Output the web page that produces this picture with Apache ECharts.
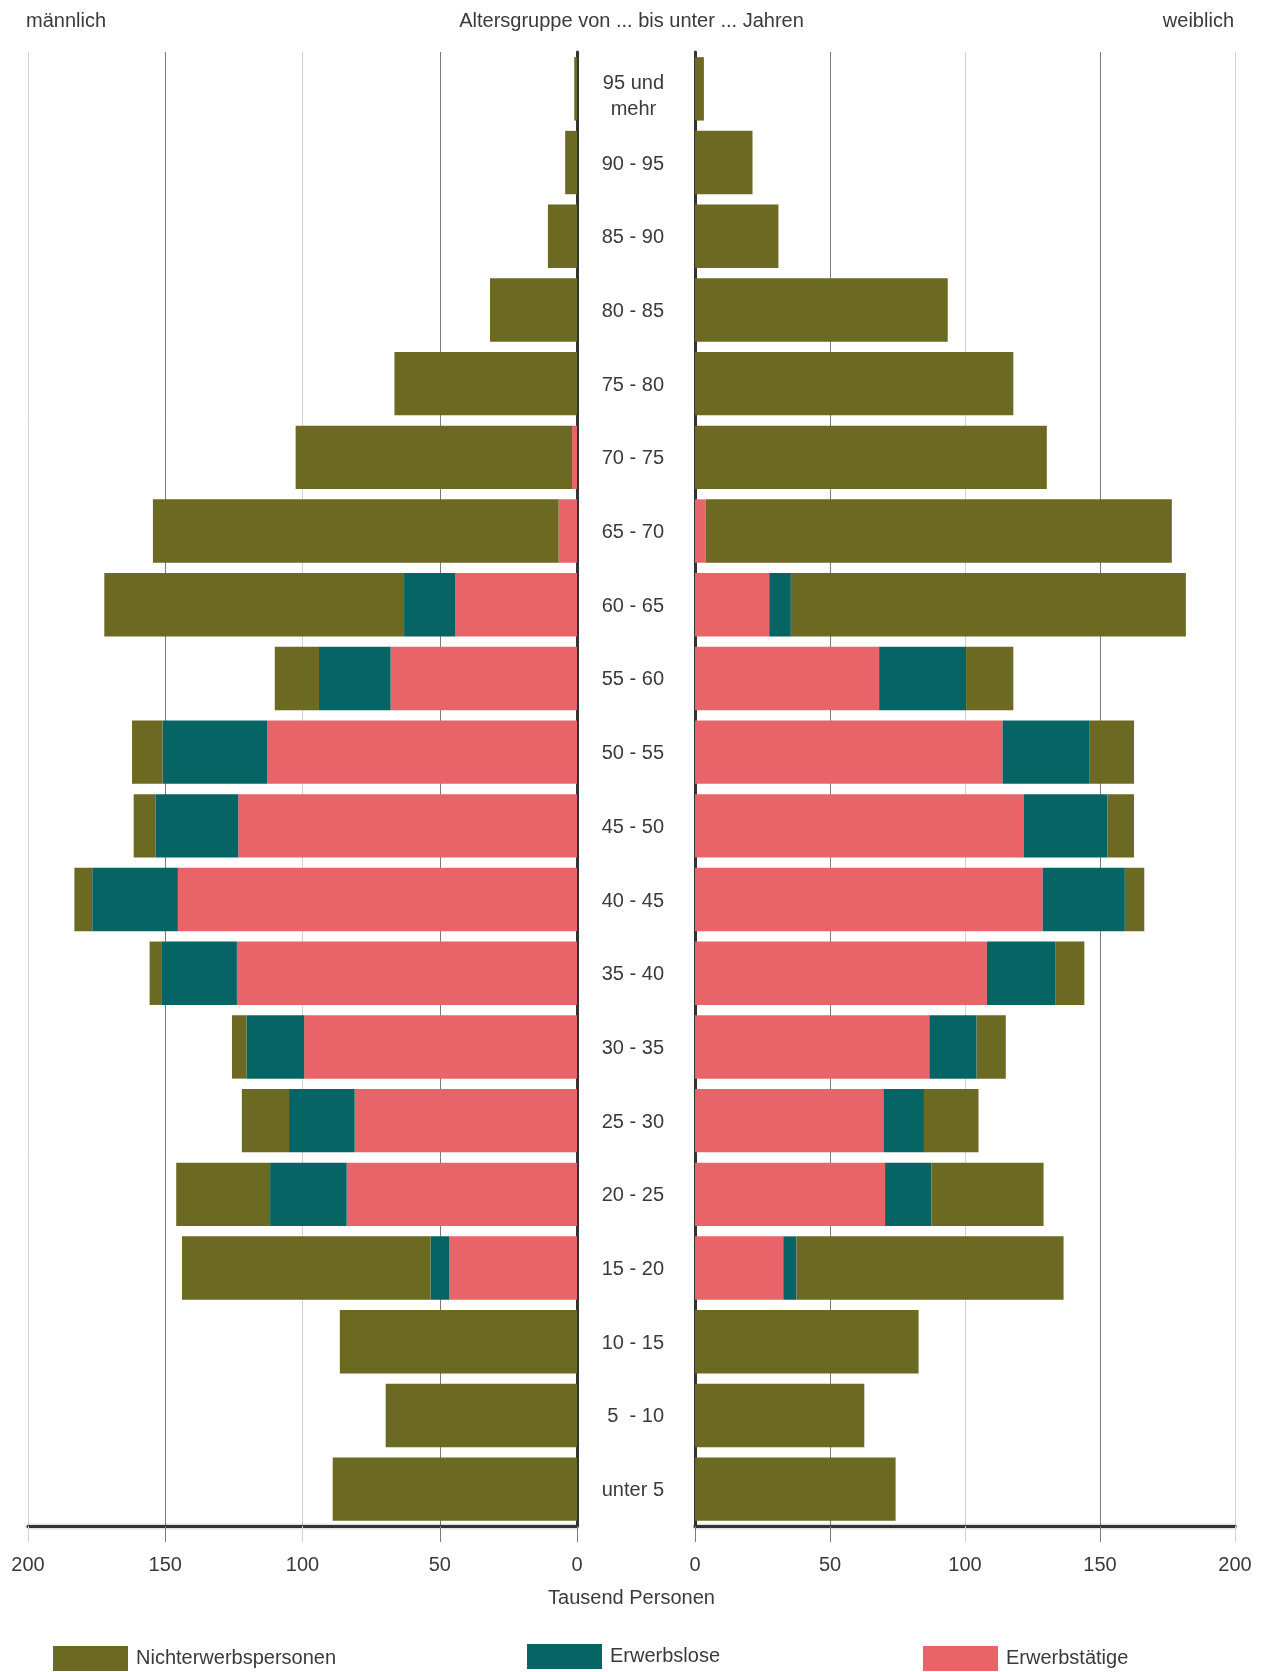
<!DOCTYPE html>
<html>
<head>
<meta charset="utf-8">
<title>Bevölkerung nach Altersgruppen und Erwerbsbeteiligung</title>
<script src="https://cdn.jsdelivr.net/npm/echarts@6/dist/echarts.min.js"></script>
<style>
  html, body { margin: 0; padding: 0; background: #fff; }
  #chart { width: 1263px; height: 1672px; }
</style>
</head>
<body>
<div id="chart"></div>
<script>
// Altersgruppen, von oben (älteste) nach unten (jüngste)
const ageGroups = [
  '95 und\nmehr', '90 - 95', '85 - 90', '80 - 85', '75 - 80', '70 - 75', '65 - 70',
  '60 - 65', '55 - 60', '50 - 55', '45 - 50', '40 - 45', '35 - 40', '30 - 35',
  '25 - 30', '20 - 25', '15 - 20', '10 - 15', '5  - 10', 'unter 5'
];

// Männlich, Tausend Personen
const maleEmployed   = [0, 0, 0, 0, 0, 1.8, 6.7, 44.3, 67.9, 112.8, 123.4, 145.4, 123.9, 99.4, 81.0, 83.9, 46.6, 0, 0, 0];
const maleUnemployed = [0, 0, 0, 0, 0, 0, 0, 18.7, 26.1, 38.2, 30.2, 31.2, 27.3, 21.0, 23.9, 27.9, 6.8, 0, 0, 0];
const maleInactive   = [1.0, 4.3, 10.6, 31.7, 66.5, 100.7, 147.8, 109.2, 16.1, 11.1, 7.9, 6.5, 4.5, 5.3, 17.2, 34.2, 90.5, 86.4, 69.7, 89.0];

// Weiblich, Tausend Personen
const femaleEmployed   = [0, 0, 0, 0, 0, 0, 4.0, 27.5, 68.2, 113.9, 121.7, 128.8, 108.1, 86.8, 69.8, 70.4, 32.7, 0, 0, 0];
const femaleUnemployed = [0, 0, 0, 0, 0, 0, 0, 8.0, 32.2, 32.3, 31.1, 30.4, 25.3, 17.5, 15.0, 17.2, 4.9, 0, 0, 0];
const femaleInactive   = [3.3, 21.3, 30.9, 93.6, 117.9, 130.3, 172.6, 146.3, 17.5, 16.4, 9.8, 7.2, 10.8, 10.8, 20.2, 41.5, 98.9, 82.8, 62.7, 74.3];

// Achsenskala (Tausend Personen); dunkle und helle Hilfslinien wechseln sich ab
const axisTicks = [0, 50, 100, 150, 200];
const darkTicks = [0, 50, 150];
const lightTicks = [100, 200];

const C_INACTIVE = '#6b6922';
const C_UNEMPLOYED = '#066464';
const C_EMPLOYED = '#e86469';
const TEXT = '#3a3a3a';
const FONT = '"Liberation Sans", Arial, sans-serif';
const FS = 20;
const GRID_DARK = '#7a7a7a';
const GRID_LIGHT = '#d2d2d2';

const chart = echarts.init(document.getElementById('chart'), null, { renderer: 'canvas' });

function valueAxis(gridIndex, inverse, primary, tickValues, lineColor) {
  return {
    type: 'value',
    gridIndex: gridIndex,
    position: 'bottom',
    inverse: inverse,
    min: axisTicks[0],
    max: axisTicks[axisTicks.length - 1],
    interval: 50,
    axisLine: primary ? {
      show: true,
      lineStyle: { color: '#333', width: 3, shadowColor: 'rgba(0,0,0,0.35)', shadowBlur: 3 }
    } : { show: false },
    axisTick: {
      show: true, inside: false, length: 16,
      customValues: tickValues,
      lineStyle: { color: lineColor, width: 1 }
    },
    axisLabel: primary ? {
      show: true, margin: 29, color: TEXT, fontSize: FS, fontFamily: FONT,
      customValues: axisTicks
    } : { show: false },
    splitLine: { show: true, lineStyle: { color: lineColor, width: 1 } }
  };
}

function bars(name, data, xi, yi, stack, color) {
  return {
    name: name,
    type: 'bar',
    stack: stack,
    xAxisIndex: xi,
    yAxisIndex: yi,
    barWidth: '86%',
    itemStyle: { color: color },
    emphasis: { disabled: true },
    data: data
  };
}

const legendBase = {
  orient: 'horizontal',
  icon: 'rect',
  itemWidth: 75,
  itemHeight: 25,
  itemGap: 8,
  padding: 0,
  textStyle: { color: TEXT, fontSize: FS, fontFamily: FONT, padding: [0, 0, 0, 3] }
};

const titleStyle = { color: TEXT, fontSize: FS, fontWeight: 'normal', fontFamily: FONT };

// Zweizeilige Beschriftung: Zeilen zentriert, Block etwas nach unten gesetzt
function categoryLabel(v) {
  if (v.indexOf('\n') < 0) { return v; }
  const lines = v.split('\n');
  return '{s| }\n' + lines.map(function (s) { return '{c|' + s + '}'; }).join('\n');
}

chart.setOption({
  animation: false,
  backgroundColor: '#ffffff',
  title: [
    { text: 'männlich', left: 26, top: 11, padding: 0, textStyle: titleStyle },
    { text: 'Altersgruppe von ... bis unter ... Jahren', left: 'center', top: 11, padding: 0, textStyle: titleStyle },
    { text: 'weiblich', right: 29, top: 11, padding: 0, textStyle: titleStyle },
    { text: 'Tausend Personen', left: 'center', top: 1588, padding: 0, textStyle: titleStyle }
  ],
  legend: [
    Object.assign({}, legendBase, { data: ['Nichterwerbspersonen'], left: 53, top: 1646 }),
    Object.assign({}, legendBase, { data: ['Erwerbslose'], left: 527, top: 1644 }),
    Object.assign({}, legendBase, { data: ['Erwerbstätige'], left: 923, top: 1646 })
  ],
  grid: [
    { left: 28, width: 549, top: 52, height: 1474, containLabel: false },
    { left: 695, width: 540, top: 52, height: 1474, containLabel: false }
  ],
  xAxis: [
    valueAxis(0, true, true, darkTicks, GRID_DARK),
    valueAxis(0, true, false, lightTicks, GRID_LIGHT),
    valueAxis(1, false, true, darkTicks, GRID_DARK),
    valueAxis(1, false, false, lightTicks, GRID_LIGHT)
  ],
  yAxis: [
    {
      type: 'category', gridIndex: 0, position: 'right', inverse: true,
      data: ageGroups,
      axisLine: { show: true, lineStyle: { color: '#333', width: 3 } },
      axisTick: { show: false },
      axisLabel: { show: false },
      splitLine: { show: false }
    },
    {
      type: 'category', gridIndex: 1, position: 'left', inverse: true,
      data: ageGroups,
      axisLine: { show: true, lineStyle: { color: '#333', width: 3 } },
      axisTick: { show: false },
      axisLabel: {
        show: true, margin: 31, color: TEXT, fontSize: FS, fontFamily: FONT,
        align: 'right', lineHeight: 26, padding: [3, 0, 0, 0],
        formatter: categoryLabel,
        rich: {
          s: { fontSize: 1, lineHeight: 12 },
          c: { align: 'center', color: TEXT, fontSize: FS, fontFamily: FONT, lineHeight: 26 }
        }
      },
      splitLine: { show: false }
    }
  ],
  series: [
    bars('Erwerbstätige', maleEmployed, 0, 0, 'male', C_EMPLOYED),
    bars('Erwerbslose', maleUnemployed, 0, 0, 'male', C_UNEMPLOYED),
    bars('Nichterwerbspersonen', maleInactive, 0, 0, 'male', C_INACTIVE),
    bars('Erwerbstätige', femaleEmployed, 2, 1, 'female', C_EMPLOYED),
    bars('Erwerbslose', femaleUnemployed, 2, 1, 'female', C_UNEMPLOYED),
    bars('Nichterwerbspersonen', femaleInactive, 2, 1, 'female', C_INACTIVE)
  ]
});
</script>
</body>
</html>
